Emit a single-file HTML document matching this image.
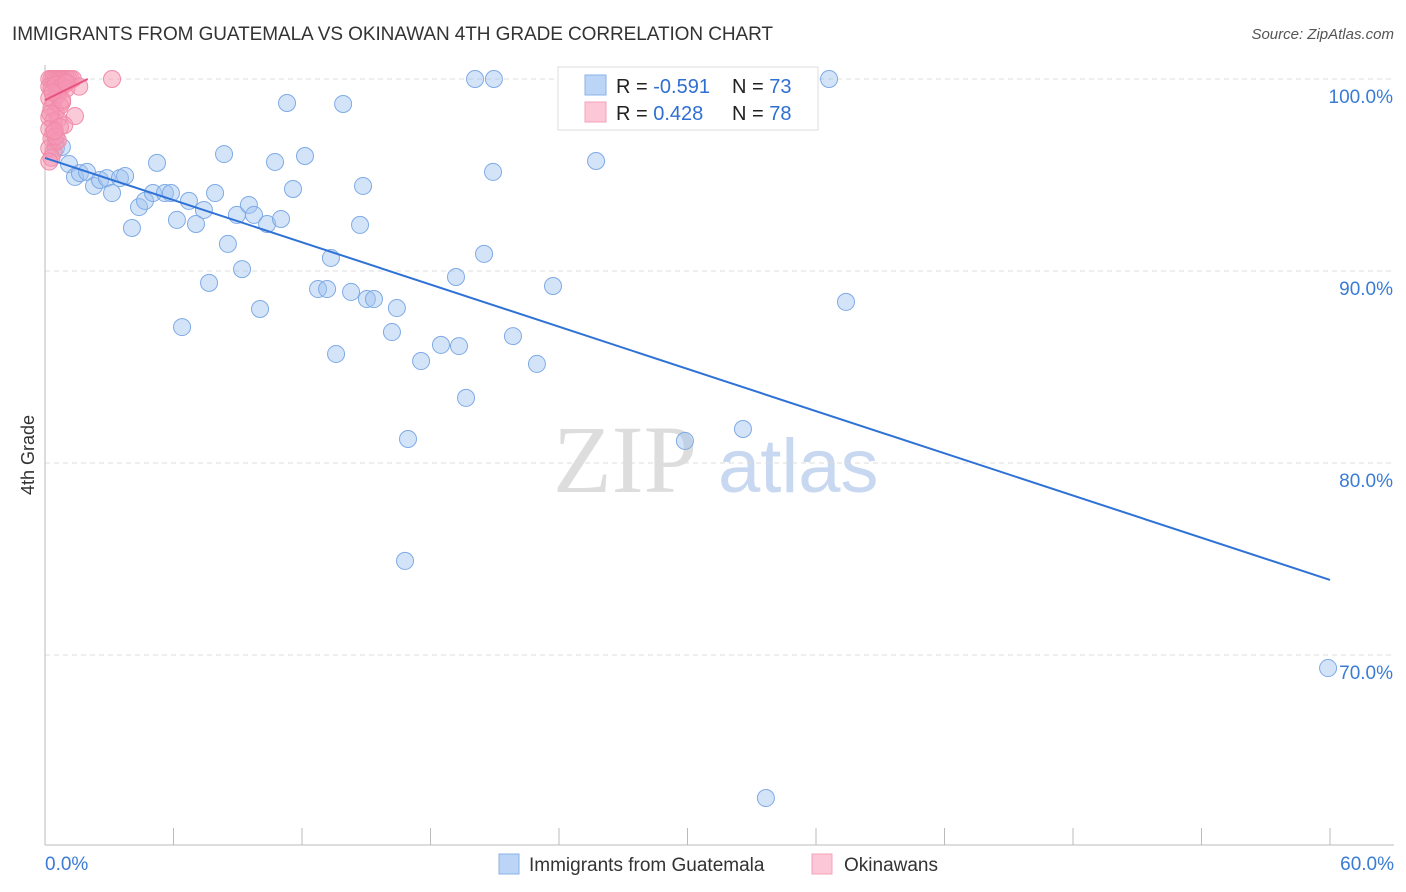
<!DOCTYPE html>
<html><head><meta charset="utf-8"><style>
body{margin:0;background:#fff;font-family:"Liberation Sans",sans-serif}
svg{display:block}
</style></head><body>
<svg id="c" width="1406" height="892">
<text x="12" y="40" font-size="19" fill="#333" textLength="761">IMMIGRANTS FROM GUATEMALA VS OKINAWAN 4TH GRADE CORRELATION CHART</text>
<text x="1394" y="39" font-size="15" fill="#555" font-style="italic" text-anchor="end">Source: ZipAtlas.com</text>
<text x="34" y="455" font-size="18" fill="#333" transform="rotate(-90 34 455)" text-anchor="middle">4th Grade</text>
<text x="553" y="492" font-size="96" fill="#ddd" font-family="Liberation Serif,serif">ZIP</text>
<text x="718" y="492" font-size="76" fill="#c8d8f0">atlas</text>
<g id="grid"></g><g id="axes"></g><g id="pts"></g><g id="lines"></g>
<g>
<rect x="558" y="67" width="260" height="63" fill="#fff" stroke="#ddd"/>
<rect x="585" y="75" width="21" height="20" fill="#bcd4f5" stroke="#8ab2ea"/>
<rect x="585" y="102" width="21" height="20" fill="#fcc8d7" stroke="#f3a0b9"/>
<text x="616" y="93" font-size="20" fill="#222">R = <tspan fill="#2f6fd3">-0.591</tspan></text>
<text x="732" y="93" font-size="20" fill="#222">N = <tspan fill="#2f6fd3">73</tspan></text>
<text x="616" y="120" font-size="20" fill="#222">R = <tspan fill="#2f6fd3"> 0.428</tspan></text>
<text x="732" y="120" font-size="20" fill="#222">N = <tspan fill="#2f6fd3">78</tspan></text>
</g>
<g>
<rect x="499" y="854" width="20" height="20" fill="#bcd4f5" stroke="#8ab2ea"/>
<text x="529" y="871" font-size="19" fill="#333">Immigrants from Guatemala</text>
<rect x="812" y="854" width="20" height="20" fill="#fcc8d7" stroke="#f3a0b9"/>
<text x="844" y="871" font-size="19" fill="#333">Okinawans</text>
</g>
</svg>
<script>
const yTicks=[100,90,80,70];
const yTickLabels=["100.0%","90.0%","80.0%","70.0%"];
const xEnds=["0.0%","60.0%"];
const blueX=[0.51,0.79,1.12,1.40,1.63,1.96,2.29,2.57,2.89,3.13,3.50,3.74,4.06,4.39,4.67,5.04,5.23,5.60,5.88,6.16,6.40,6.72,7.05,7.42,7.66,7.94,8.36,8.54,8.96,9.20,9.52,9.76,10.04,10.37,10.74,11.02,11.30,11.58,12.14,12.75,13.17,13.35,13.59,13.92,14.29,14.71,14.85,15.03,15.36,16.20,16.43,16.81,16.95,17.56,18.49,19.19,19.33,19.66,20.08,20.50,20.92,20.96,21.85,22.97,23.72,25.73,29.88,32.59,33.66,36.61,37.40,59.91];
const blueY=[96.41,96.46,95.57,94.90,95.10,95.16,94.43,94.74,94.84,94.06,94.84,94.95,92.24,93.33,93.65,94.06,95.63,94.06,94.06,92.66,87.08,93.65,92.45,93.18,89.38,94.06,96.09,91.41,92.92,90.10,93.44,92.92,88.02,92.45,95.68,92.71,98.75,94.27,95.99,89.06,89.06,90.68,85.68,98.70,88.91,92.40,94.43,88.54,88.54,86.82,88.07,74.90,81.25,85.31,86.15,89.69,86.09,83.39,100,90.89,95.16,100,86.61,85.16,89.22,95.73,81.15,81.77,62.55,100,88.39,69.32];
const pinkX=[0.2,0.3,0.4,0.5,0.6,0.7,0.8,0.9,1.0,1.1,1.2,1.3,0.2,0.3,0.5,0.6,0.8,1.0,0.2,0.4,0.6,0.8,0.3,0.5,0.7,0.2,0.4,0.6,0.9,0.2,0.4,0.7,0.3,0.5,0.2,0.4,0.6,0.3,0.2,0.5,1.4,1.6,3.13,1.0,0.8,0.25,0.45,0.35];
const pinkY=[100,100,100,100,100,100,100,100,100,100,100,100,99.6,99.5,99.7,99.4,99.6,99.5,99.0,98.9,99.2,98.8,98.5,98.3,98.6,98.0,97.8,97.9,97.6,97.4,97.2,97.5,96.9,96.7,96.4,96.2,96.8,95.9,95.7,97.0,98.07,99.6,100,99.8,98.9,98.2,97.3,99.3];
const blueTrend=[95.89,73.91];
const pinkTrend=[98.9,100];
const pinkTrendX=[0,2.0];
const X=v=>45+v/60*1285, Y=v=>79+(100-v)*19.2;
const NS="http://www.w3.org/2000/svg";
function mk(t,a,p){const e=document.createElementNS(NS,t);for(const k in a)e.setAttribute(k,a[k]);document.getElementById(p).appendChild(e);return e;}
yTicks.forEach((t,i)=>{
const g=mk('line',{x1:45,x2:1394,y1:Y(t),y2:Y(t),stroke:'#ddd','stroke-dasharray':'5,4'},'grid');


const l=mk('text',{x:1393,y:Y(t)+24,'font-size':19,fill:'#3a7bd5','text-anchor':'end'},'grid');l.textContent=yTickLabels[i];


});
mk('line',{x1:45,x2:45,y1:65,y2:845,stroke:'#bbb'},'axes');
mk('line',{x1:45,x2:1394,y1:845,y2:845,stroke:'#bbb'},'axes');
for(let i=0;i<=10;i++){const t=mk('line',{x1:X(i*6),x2:X(i*6),y1:828,y2:845,stroke:'#bbb'},'axes');

}
const a=mk('text',{x:45,y:870,'font-size':19,fill:'#3a7bd5'},'axes');a.textContent=xEnds[0];


const b=mk('text',{x:1394,y:870,'font-size':19,fill:'#3a7bd5','text-anchor':'end'},'axes');b.textContent=xEnds[1];


blueX.forEach((x,i)=>{const c=mk('circle',{cx:X(x),cy:Y(blueY[i]),r:8.5,fill:'rgba(160,196,240,0.45)',stroke:'#7eaae6','stroke-width':1},'pts');

});
pinkX.forEach((x,i)=>{const c=mk('circle',{cx:X(x),cy:Y(pinkY[i]),r:8.5,fill:'rgba(246,150,180,0.5)',stroke:'#f08aa8','stroke-width':1},'pts');

});
const bl=mk('line',{x1:X(0),y1:Y(blueTrend[0]),x2:X(60),y2:Y(blueTrend[1]),stroke:'#2f72d6','stroke-width':2},'lines');


const pl=mk('line',{x1:X(pinkTrendX[0]),y1:Y(pinkTrend[0]),x2:X(pinkTrendX[1]),y2:Y(pinkTrend[1]),stroke:'#e8537d','stroke-width':2},'lines');


</script>
</body></html>
